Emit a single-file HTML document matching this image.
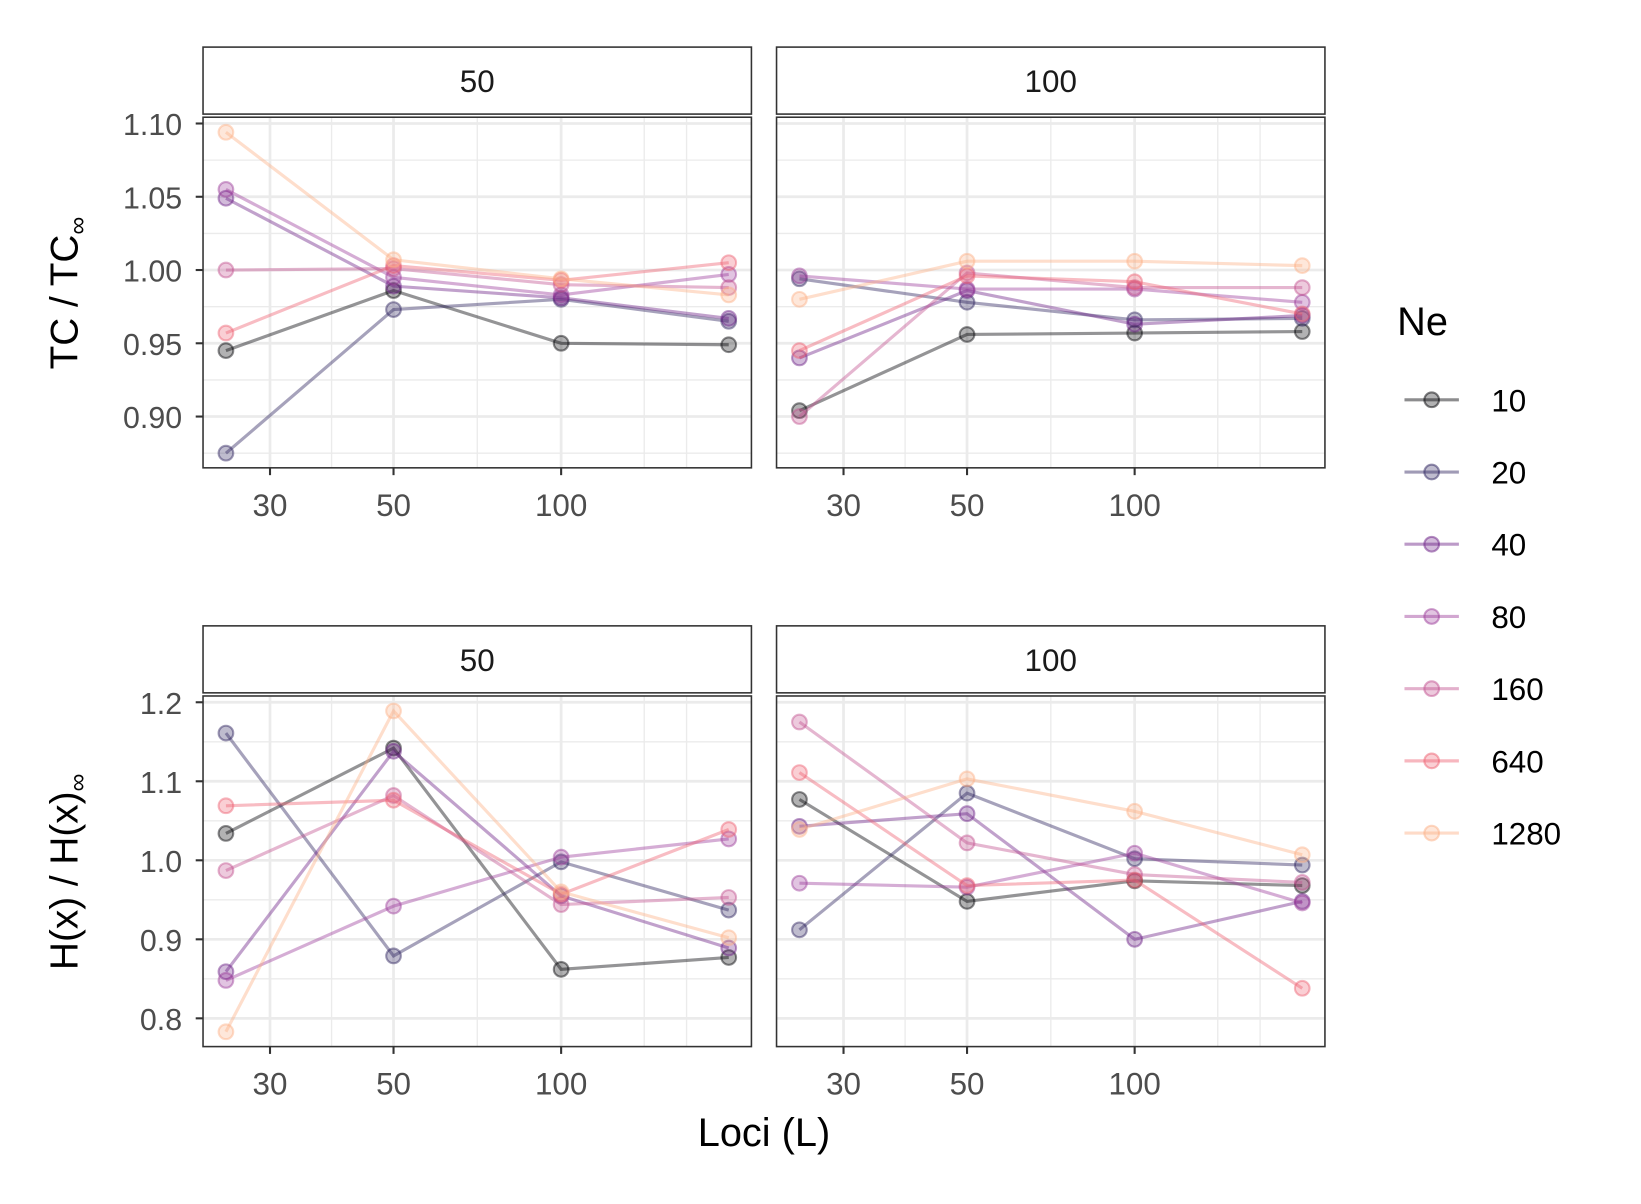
<!DOCTYPE html>
<html><head><meta charset="utf-8"><style>
html,body{margin:0;padding:0;background:#fff;}
svg{display:block;font-family:"Liberation Sans",sans-serif;}
</style></head><body>
<svg id="chart" width="1641" height="1204" viewBox="0 0 1568 1150.4" preserveAspectRatio="none" xmlns="http://www.w3.org/2000/svg"></svg>
<script>
const lociValues = [25, 50, 100, 200];
const neLevels = ["10","20","40","80","160","640","1280"];
const neColors = ["#000004","#2c215e","#6b1f86","#9c3b9a","#c2508f","#ee6070","#fcb086"];
const tcN50 = [[0.945,0.986,0.950,0.949],[0.875,0.973,0.980,0.965],[1.049,0.989,0.981,0.967],[1.055,0.995,0.983,0.997],[1.000,1.001,0.990,0.988],[0.957,1.003,0.993,1.005],[1.094,1.007,0.994,0.983]];
const tcN100 = [[0.904,0.956,0.957,0.958],[0.994,0.978,0.966,0.967],[0.940,0.986,0.963,0.969],[0.996,0.987,0.987,0.978],[0.900,0.998,0.988,0.988],[0.945,0.996,0.992,0.970],[0.980,1.006,1.006,1.003]];
const hxN50 = [[1.034,1.142,0.862,0.877],[1.161,0.879,0.998,0.937],[0.859,1.138,0.955,0.889],[0.848,0.942,1.004,1.027],[0.987,1.082,0.944,0.953],[1.069,1.076,0.957,1.039],[0.783,1.189,0.960,0.902]];
const hxN100 = [[1.077,0.948,0.974,0.968],[0.912,1.085,1.002,0.994],[1.043,1.059,0.900,0.948],[0.971,0.966,1.009,0.946],[1.175,1.022,0.982,0.972],[1.111,0.968,0.975,0.838],[1.039,1.103,1.062,1.007]];
const xTicks = [30,50,100];
const xMinor = [38.7,70.7,141,168];
const tcTicks = [0.90,0.95,1.00,1.05,1.10];
const tcTickLabels = ["0.90","0.95","1.00","1.05","1.10"];
const tcMinor = [0.875,0.925,0.975,1.025,1.075];
const hxTicks = [0.8,0.9,1.0,1.1,1.2];
const hxTickLabels = ["0.8","0.9","1.0","1.1","1.2"];
const hxMinor = [0.85,0.95,1.05,1.15];
const stripLabels = ["50","100"];

const NS="http://www.w3.org/2000/svg";
const svg=document.getElementById('chart');
function mk(tag,attrs,parent){const e=document.createElementNS(NS,tag);for(const k in attrs)e.setAttribute(k,attrs[k]);(parent||svg).appendChild(e);return e;}

const panelW=524, panelXs=[194,742];
const rows=[
 {stripY:45, top:112, bot:447, ticks:tcTicks, labels:tcTickLabels, minor:tcMinor, y:v=>118+(1.10-v)*1400, data:[tcN50,tcN100], name:'tc'},
 {stripY:598, top:665, bot:1000, ticks:hxTicks, labels:hxTickLabels, minor:hxMinor, y:v=>671+(1.2-v)*755, data:[hxN50,hxN100], name:'hx'}
];
function xScale(px0,L){return px0+64+(Math.log10(L)-Math.log10(30))*532;}

rows.forEach((r,ri)=>{
 panelXs.forEach((px,pi)=>{
  const g=mk('g',{});
  
  
  mk('rect',{x:px,y:r.top,width:panelW,height:r.bot-r.top,fill:'#fff'},g);
  r.minor.forEach(v=>{const y=r.y(v);if(y>r.top&&y<r.bot)mk('line',{x1:px,x2:px+panelW,y1:y,y2:y,stroke:'#ebebeb','stroke-width':1.3},g);});
  xMinor.forEach(L=>{const x=xScale(px,L);mk('line',{x1:x,x2:x,y1:r.top,y2:r.bot,stroke:'#ebebeb','stroke-width':1.3},g);});
  r.ticks.forEach(v=>{const y=r.y(v);mk('line',{x1:px,x2:px+panelW,y1:y,y2:y,stroke:'#ebebeb','stroke-width':2.6},g);});
  xTicks.forEach(L=>{const x=xScale(px,L);mk('line',{x1:x,x2:x,y1:r.top,y2:r.bot,stroke:'#ebebeb','stroke-width':2.6},g);});
  r.data[pi].forEach((vals,si)=>{
   const sg=mk('g',{},g);
   
   
   const pts=vals.map((v,i)=>[xScale(px,lociValues[i]),r.y(v)]);
   const pl=mk('polyline',{points:pts.map(p=>p.join(',')).join(' '),fill:'none',stroke:neColors[si],'stroke-opacity':0.42,'stroke-width':3},sg);
   
   
   pts.forEach(p=>{const c=mk('circle',{cx:p[0],cy:p[1],r:7,fill:neColors[si],'fill-opacity':0.3,stroke:neColors[si],'stroke-opacity':0.45,'stroke-width':2},sg);
    
    });
  });
  mk('rect',{x:px,y:r.top,width:panelW,height:r.bot-r.top,fill:'none',stroke:'#333','stroke-width':1.5},g);
  const sr=mk('rect',{x:px,y:r.stripY,width:panelW,height:64,fill:'#fff',stroke:'#333','stroke-width':1.5});
  
  
  const st=mk('text',{x:px+panelW/2,y:r.stripY+43,'text-anchor':'middle','font-size':30,fill:'#1a1a1a'});
  st.textContent=stripLabels[pi];
  
  
  xTicks.forEach(L=>{const x=xScale(px,L);
   mk('line',{x1:x,x2:x,y1:r.bot,y2:r.bot+7,stroke:'#333','stroke-width':2});
   const t=mk('text',{x:x,y:r.bot+46,'text-anchor':'middle','font-size':30,fill:'#4d4d4d'});
   t.textContent=String(L);
   
   });
 });
 r.ticks.forEach((v,i)=>{const y=r.y(v);
  mk('line',{x1:187,x2:194,y1:y,y2:y,stroke:'#333','stroke-width':2});
  const t=mk('text',{x:174,y:y+11,'text-anchor':'end','font-size':29,fill:'#4d4d4d'});
  t.textContent=r.labels[i];
  
  });
});
function ytitle(cy,main,name){
 const t=mk('text',{transform:`translate(74,${cy}) rotate(-90)`,'text-anchor':'middle','font-size':37,fill:'#000'});
 
 
 t.appendChild(document.createTextNode(main));
 const s=mk('tspan',{'font-size':24,dy:8},t);s.textContent='∞';
}
ytitle(280,'TC / TC','y-axis-title-tc');
ytitle(833,'H(x) / H(x)','y-axis-title-hx');
const xt=mk('text',{x:730,y:1095,'text-anchor':'middle','font-size':38,fill:'#000'});
xt.textContent='Loci (L)';


const lg=mk('g',{});


const lt=mk('text',{x:1335,y:320,'font-size':38,fill:'#000'},lg);lt.textContent='Ne';


neLevels.forEach((n,i)=>{const y=382+i*69;
 const e=mk('g',{},lg);
 
 
 mk('line',{x1:1342,x2:1394,y1:y,y2:y,stroke:neColors[i],'stroke-opacity':0.45,'stroke-width':3},e);
 mk('circle',{cx:1368,cy:y,r:7,fill:neColors[i],'fill-opacity':0.3,stroke:neColors[i],'stroke-opacity':0.5,'stroke-width':2},e);
 const t=mk('text',{x:1425,y:y+11,'font-size':30,fill:'#000'},e);t.textContent=n;});
</script>
</body></html>
